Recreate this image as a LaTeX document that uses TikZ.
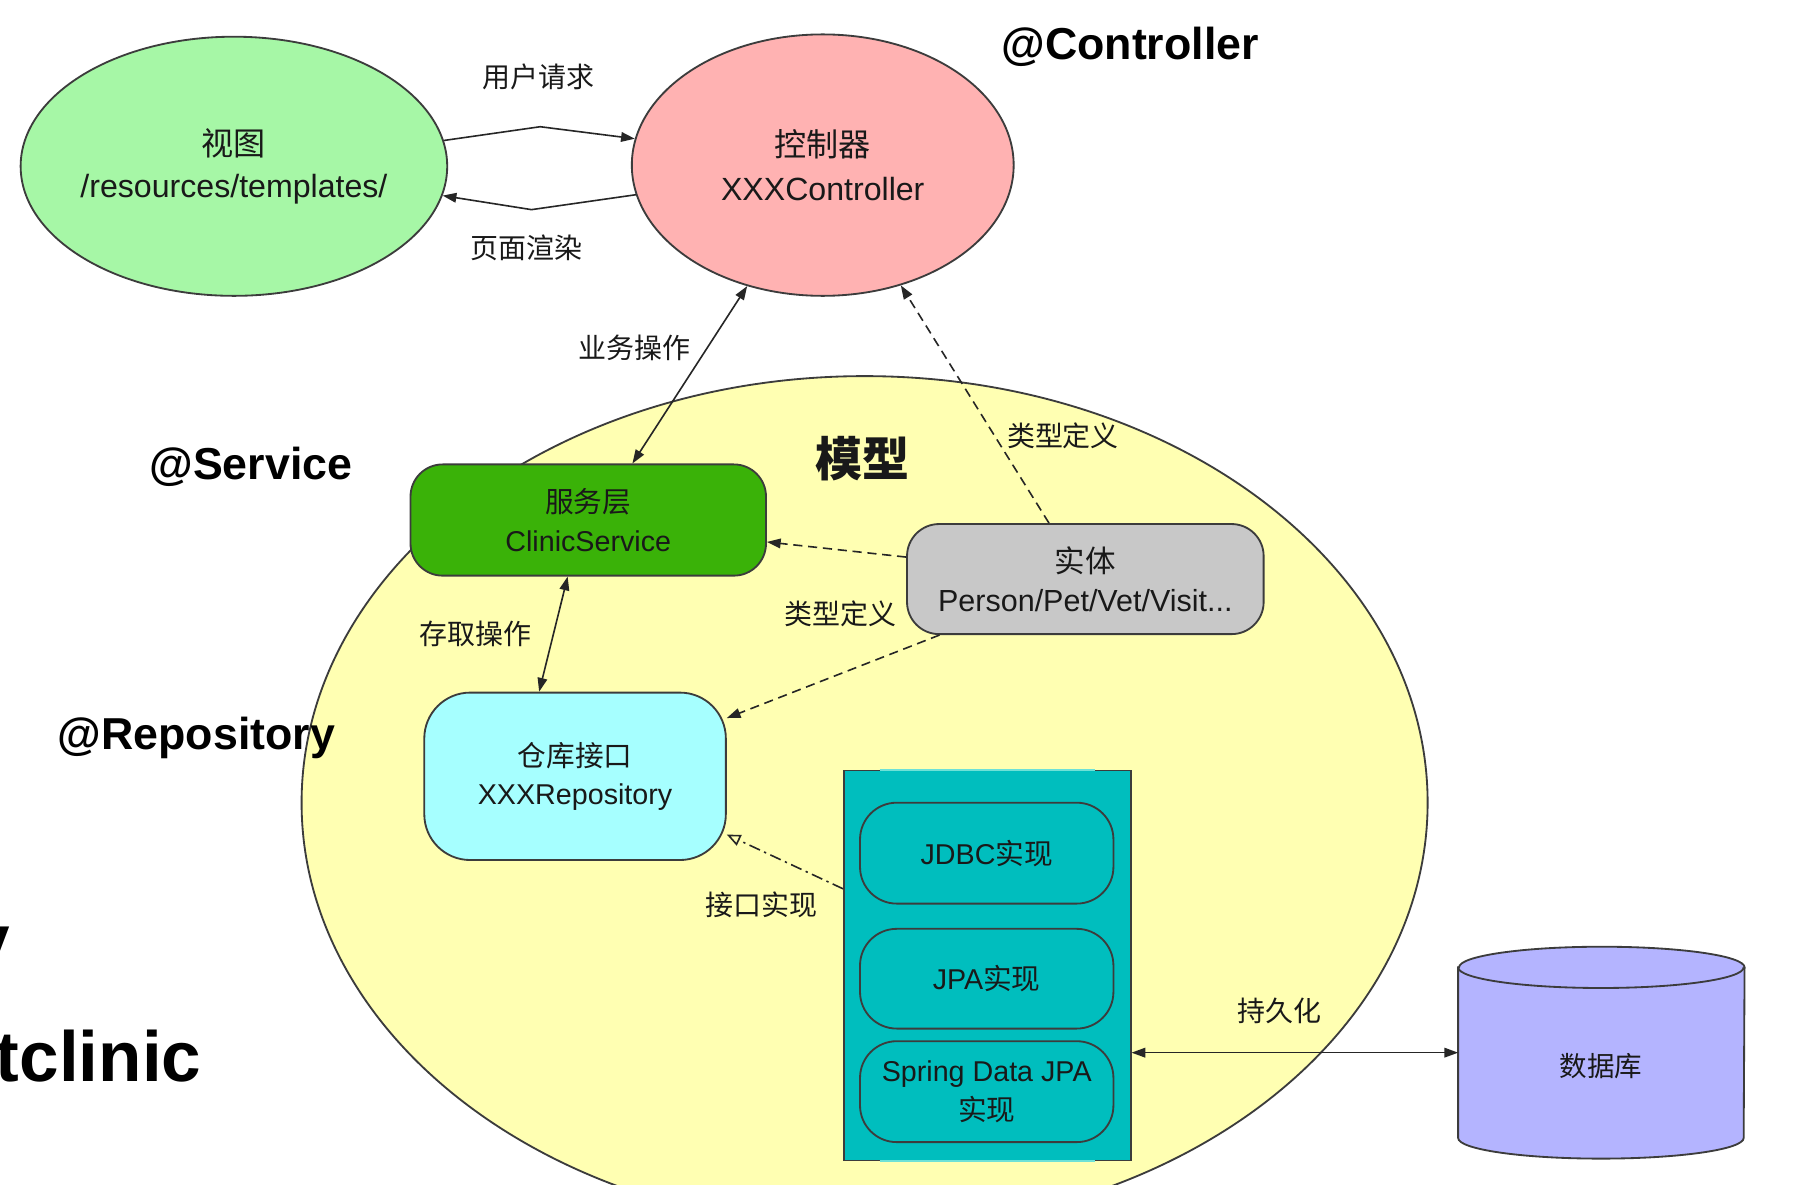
\documentclass[tikz,border=0pt]{standalone}
\usepackage{fontspec}
\setmainfont{Liberation Sans}
\newfontfamily\cjk{Noto Sans CJK SC}
\usetikzlibrary{shapes.geometric,arrows.meta,calc}
\definecolor{viewc}{RGB}{166,247,166}
\definecolor{ctrlc}{RGB}{255,178,178}
\definecolor{modelc}{RGB}{255,255,178}
\definecolor{svcc}{RGB}{58,178,8}
\definecolor{entc}{RGB}{200,200,200}
\definecolor{repoc}{RGB}{166,255,255}
\definecolor{implc}{RGB}{0,190,190}
\definecolor{impll}{RGB}{110,225,215}
\definecolor{dbc}{RGB}{180,180,255}
\definecolor{edgec}{RGB}{60,60,60}
\definecolor{txt}{RGB}{25,25,25}
\begin{document}
\begin{tikzpicture}[x=0.5pt,y=-0.5pt,
  >={Triangle[length=6pt,width=4.2pt]},
  shapebase/.style={draw=edgec,line width=0.8pt,text=txt,align=center,inner sep=0pt},
  ell/.style={shapebase,ellipse},
  rbox/.style={shapebase,rectangle,rounded corners=#1},
  boxtext/.style={font=\fontsize{12.5}{16.75}\selectfont},
  lbl/.style={font=\fontsize{12.2}{14}\selectfont,text=txt,inner sep=0pt},
  anno/.style={font=\bfseries\fontsize{19.5}{23}\selectfont,text=black,inner sep=0pt,anchor=base west},
  slidetext/.style={font=\bfseries\fontsize{31}{36}\selectfont,text=black,inner sep=0pt,anchor=base east},
  conn/.style={draw=black!85,line width=0.7pt},
  dashedconn/.style={conn,dash pattern=on 4pt off 2.5pt},
  dashdotconn/.style={conn,dash pattern=on 5pt off 2pt on 1pt off 2pt},
]
\useasboundingbox (0,0) rectangle (1568,1033);
\clip (0,0) rectangle (1568,1033);
\fill[white] (0,0) rectangle (1568,1033);

% model region
\node[ell,fill=modelc,minimum width=491pt,minimum height=372pt] (model) at (754,700) {};
\node[inner sep=0pt,text=txt,font=\fontsize{20.5}{24}\selectfont] (modeltitle) at (752,400) {\cjk\bfseries 模型};

% top ellipses
\node[ell,fill=viewc,minimum width=186pt,minimum height=113pt] (view) at (204,145) {};
\node[align=center,inner sep=0pt,text=txt,font=\fontsize{14}{18}\selectfont] (viewtext) at (view.center) {{\cjk 视图}\\/resources/templates/};
\node[ell,fill=ctrlc,minimum width=166.5pt,minimum height=114pt] (ctrl) at (717.5,144) {};
\node[align=center,inner sep=0pt,text=txt,font=\fontsize{14}{19}\selectfont] (ctrltext) at (ctrl.center) {{\cjk 控制器}\\XXXController};

% boxes
\node[rbox=14pt,fill=svcc,minimum width=155pt,minimum height=48.5pt,boxtext] (svc) at (513,453.5) {{\cjk 服务层}\\ClinicService};
\node[rbox=14pt,fill=entc,minimum width=155.5pt,minimum height=48pt,font=\fontsize{13.3}{17}\selectfont] (ent) at (946.5,505) {{\cjk 实体}\\Person/Pet/Vet/Visit...};
\node[rbox=20pt,fill=repoc,minimum width=131.5pt,minimum height=73pt,boxtext] (repo) at (501.5,677) {{\cjk 仓库接口}\\XXXRepository};

% implementation container
\node[shapebase,rectangle,fill=implc,minimum width=125pt,minimum height=170pt] (impl) at (861,842) {};
\draw[impll,line width=0.9pt] ($(impl.north west)+(32,0)$) -- ($(impl.north east)+(-32,0)$);
\draw[impll,line width=0.9pt] ($(impl.south west)+(32,0)$) -- ($(impl.south east)+(-32,0)$);
\node[rbox=16pt,fill=implc,minimum width=110.5pt,minimum height=44pt,boxtext] (jdbc) at (860.5,744) {JDBC{\cjk 实现}};
\node[rbox=16pt,fill=implc,minimum width=110.5pt,minimum height=43.5pt,boxtext] (jpa) at (860.5,853.5) {JPA{\cjk 实现}};
\node[rbox=16pt,fill=implc,minimum width=110.5pt,minimum height=44pt,boxtext] (sdj) at (860.5,952) {Spring Data JPA\\{\cjk 实现}};

% database cylinder
\node[inner sep=0pt,minimum width=124.5pt,minimum height=92pt] (db) at (1396.5,918) {};
\filldraw[fill=dbc,draw=edgec,line width=0.8pt] ($(db.north west)+(0,18)$) -- ($(db.south west)+(0,-18)$)
  arc[start angle=180,end angle=360,x radius=62.25pt,y radius=9pt]
  -- ($(db.north east)+(0,18)$)
  arc[start angle=0,end angle=180,x radius=62.25pt,y radius=9pt] -- cycle;
\draw[draw=edgec,line width=0.8pt] ($(db.north west)+(0,18)$) arc[start angle=180,end angle=360,x radius=62.25pt,y radius=9pt];
\node[lbl,font=\fontsize{12}{14}\selectfont] (dbtext) at (1396,930) {\cjk 数据库};

% connectors
\draw[conn,->] (view.7) -- ++(84,-12) -- (ctrl.172);
\draw[conn,->] (ctrl.189) -- ++(-91,13) -- (view.-8);
\draw[conn,<->] (ctrl.238) -- (svc.52);
\draw[dashedconn,->] (ent.123) -- (ctrl.-57);
\draw[dashedconn,->] (ent.173) -- (svc.-7);
\draw[dashedconn,->] (ent.201) -- (repo.21);
\draw[conn,<->] (svc.250) -- (repo.113);
\draw[dashdotconn,-{Triangle[open,length=6pt,width=5pt]}] (impl.152) -- (repo.-21);
\draw[conn,<->] (db.west -| impl.east) -- (db.west);

% connector labels
\node[lbl] (l1) at (470,67) {\cjk 用户请求};
\node[lbl] (l2) at (459,216) {\cjk 页面渲染};
\node[lbl] (l3) at (553,303) {\cjk 业务操作};
\node[lbl] (l4) at (927,380) {\cjk 类型定义};
\node[lbl] (l5) at (733,535) {\cjk 类型定义};
\node[lbl] (l6) at (415,553) {\cjk 存取操作};
\node[lbl] (l7) at (664,789) {\cjk 接口实现};
\node[lbl] (l8) at (1116,882) {\cjk 持久化};

% annotations
\node[anno] (acontroller) at (873,52) {@Controller};
\node[anno] (aservice) at (130,418) {@Service};
\node[anno] (arepository) at (50,654) {@Repository};
\node[slidetext] (slide1) at (9,841) {y};
\node[slidetext] (slide2) at (176,943) {tclinic};
\end{tikzpicture}
\end{document}
